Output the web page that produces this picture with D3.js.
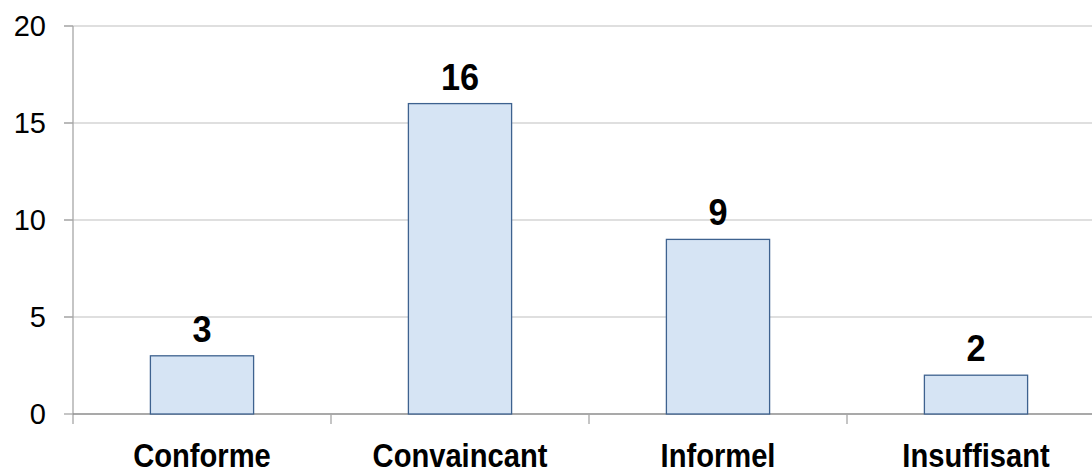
<!DOCTYPE html>
<html>
<head>
<meta charset="utf-8">
<script src="https://cdn.jsdelivr.net/npm/d3@7"></script>
<style>
  html, body { margin: 0; padding: 0; background: #fff; }
  svg { display: block; }
  text { font-family: "Liberation Sans", Arial, sans-serif; fill: #000; }
</style>
</head>
<body>
<svg id="chart" width="1092" height="474"></svg>
<script>
// Categories and counts
const categories = ["Conforme", "Convaincant", "Informel", "Insuffisant"];
const counts = [3, 16, 9, 2];
const yTicks = [0, 5, 10, 15, 20];

const svg = d3.select("#chart");
const plotLeft = 73, plotTop = 26, plotBottom = 414;
const bandW = 258;

const x = d3.scaleBand()
  .domain(categories)
  .range([plotLeft, plotLeft + bandW * categories.length])
  .paddingInner(0.6)
  .paddingOuter(0.3);

const y = d3.scaleLinear().domain([0, 20]).range([plotBottom, plotTop]);

// Horizontal gridlines
svg.append("g").selectAll("line")
  .data(yTicks.filter(d => d > 0))
  .join("line")
  .attr("x1", plotLeft - 9).attr("x2", 1092)
  .attr("y1", d => y(d)).attr("y2", d => y(d))
  .attr("stroke", "#d4d4d4").attr("stroke-width", 1.3);

// Y axis line and ticks
svg.append("line")
  .attr("x1", plotLeft).attr("x2", plotLeft)
  .attr("y1", plotTop).attr("y2", plotBottom + 10)
  .attr("stroke", "#a6a6a6").attr("stroke-width", 1.3);

svg.append("g").selectAll("line")
  .data(yTicks)
  .join("line")
  .attr("x1", plotLeft - 9).attr("x2", plotLeft)
  .attr("y1", d => y(d)).attr("y2", d => y(d))
  .attr("stroke", "#a6a6a6").attr("stroke-width", 1.3);

// Y tick labels
svg.append("g").selectAll("text")
  .data(yTicks)
  .join("text")
  .attr("transform", d => `translate(46,${y(d) + 10}) scale(1,1)`)
  .attr("text-anchor", "end")
  .style("font-size", "29px")
  .text(d => d);

// X baseline
svg.append("line")
  .attr("x1", plotLeft).attr("x2", 1092)
  .attr("y1", y(0)).attr("y2", y(0))
  .attr("stroke", "#8c8c8c").attr("stroke-width", 1.3);

// Category boundary ticks
svg.append("g").selectAll("line")
  .data(d3.range(1, categories.length))
  .join("line")
  .attr("x1", i => plotLeft + bandW * i).attr("x2", i => plotLeft + bandW * i)
  .attr("y1", y(0)).attr("y2", y(0) + 10)
  .attr("stroke", "#a6a6a6").attr("stroke-width", 1.3);

// Bars
svg.append("g").selectAll("rect")
  .data(categories)
  .join("rect")
  .attr("x", (d) => x(d))
  .attr("y", (d, i) => y(counts[i]))
  .attr("width", x.bandwidth())
  .attr("height", (d, i) => y(0) - y(counts[i]))
  .attr("fill", "#d6e4f4")
  .attr("stroke", "#3e628f")
  .attr("stroke-width", 1.3);

// Value labels
svg.append("g").selectAll("text")
  .data(categories)
  .join("text")
  .attr("transform", (d, i) => `translate(${x(d) + x.bandwidth() / 2},${y(counts[i]) - 14}) scale(0.98,1.04)`)
  .attr("text-anchor", "middle")
  .style("font-size", "35px")
  .style("font-weight", "bold")
  .text((d, i) => counts[i]);

// Category labels
svg.append("g").selectAll("text")
  .data(categories)
  .join("text")
  .attr("transform", d => `translate(${x(d) + x.bandwidth() / 2},467) scale(0.94,1.1)`)
  .attr("text-anchor", "middle")
  .style("font-size", "31px")
  .style("font-weight", "bold")
  .text(d => d);
</script>
</body>
</html>
